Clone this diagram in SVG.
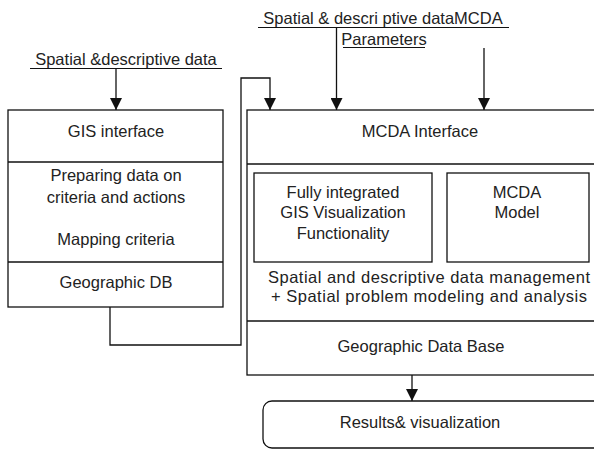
<svg xmlns="http://www.w3.org/2000/svg" width="594" height="451" viewBox="0 0 594 451">
<style>
text{font-family:"Liberation Sans",Arial,sans-serif;font-size:16.5px;fill:#222;text-anchor:middle}
.b{fill:#fff;stroke:#111;stroke-width:1.3}
.l{fill:none;stroke:#111;stroke-width:1.3}
.u{stroke:#111;stroke-width:1}
</style>
<defs>
<marker id="ah" markerWidth="12" markerHeight="12" refX="12" refY="6" orient="auto" markerUnits="userSpaceOnUse" viewBox="0 0 12 12">
<path d="M0,0 L12,6 L0,12 Z" fill="#111"/>
</marker>
</defs>
<rect width="594" height="451" fill="#fff"/>
<g id="label-left">
<text x="126" y="65">Spatial &amp;descriptive data</text>
<line class="u" x1="30" y1="68.5" x2="222" y2="68.5"/>
</g>
<g id="label-top">
<text x="383" y="24">Spatial &amp; descri ptive dataMCDA</text>
<line class="u" x1="258" y1="27.5" x2="509" y2="27.5"/>
<text x="384" y="45">Parameters</text>
<line class="u" x1="343" y1="47.5" x2="425" y2="47.5"/>
</g>
<g id="gis">
<rect class="b" x="8" y="110" width="215" height="197"/>
<line class="l" x1="8" y1="162" x2="223" y2="162"/>
<line class="l" x1="8" y1="262" x2="223" y2="262"/>
<text x="116" y="137">GIS interface</text>
<text x="116" y="181">Preparing data on</text>
<text x="116" y="203">criteria and actions</text>
<text x="116" y="245">Mapping criteria</text>
<text x="116" y="288">Geographic DB</text>
</g>
<g id="mcda">
<rect class="b" x="247" y="110" width="360" height="265"/>
<line class="l" x1="247" y1="164" x2="607" y2="164"/>
<line class="l" x1="247" y1="321" x2="607" y2="321"/>
<text x="420" y="137">MCDA Interface</text>
<text x="429" y="283" textLength="322" lengthAdjust="spacing">Spatial and descriptive data management</text>
<text x="429" y="302" textLength="316" lengthAdjust="spacing">+ Spatial problem modeling and analysis</text>
<text x="421" y="352">Geographic Data Base</text>
</g>
<g id="gisviz">
<rect class="b" x="254" y="173" width="178" height="89"/>
<text x="343" y="198">Fully integrated</text>
<text x="343" y="218">GIS Visualization</text>
<text x="343" y="239">Functionality</text>
</g>
<g id="model">
<rect class="b" x="447" y="173" width="142" height="89"/>
<text x="517" y="198">MCDA</text>
<text x="517" y="218">Model</text>
</g>
<g id="results">
<rect class="b" x="263" y="401" width="345" height="47" rx="9"/>
<text x="420" y="428">Results&amp; visualization</text>
</g>
<g id="connectors">
<line class="l" x1="116" y1="69" x2="116" y2="110" marker-end="url(#ah)"/>
<line class="l" x1="336.5" y1="28" x2="336.5" y2="110" marker-end="url(#ah)"/>
<line class="l" x1="484" y1="48" x2="484" y2="110" marker-end="url(#ah)"/>
<polyline class="l" points="110,307 110,345 241,345 241,78 270,78 270,110" marker-end="url(#ah)"/>
<line class="l" x1="412" y1="375" x2="412" y2="401" marker-end="url(#ah)"/>
</g>
</svg>
